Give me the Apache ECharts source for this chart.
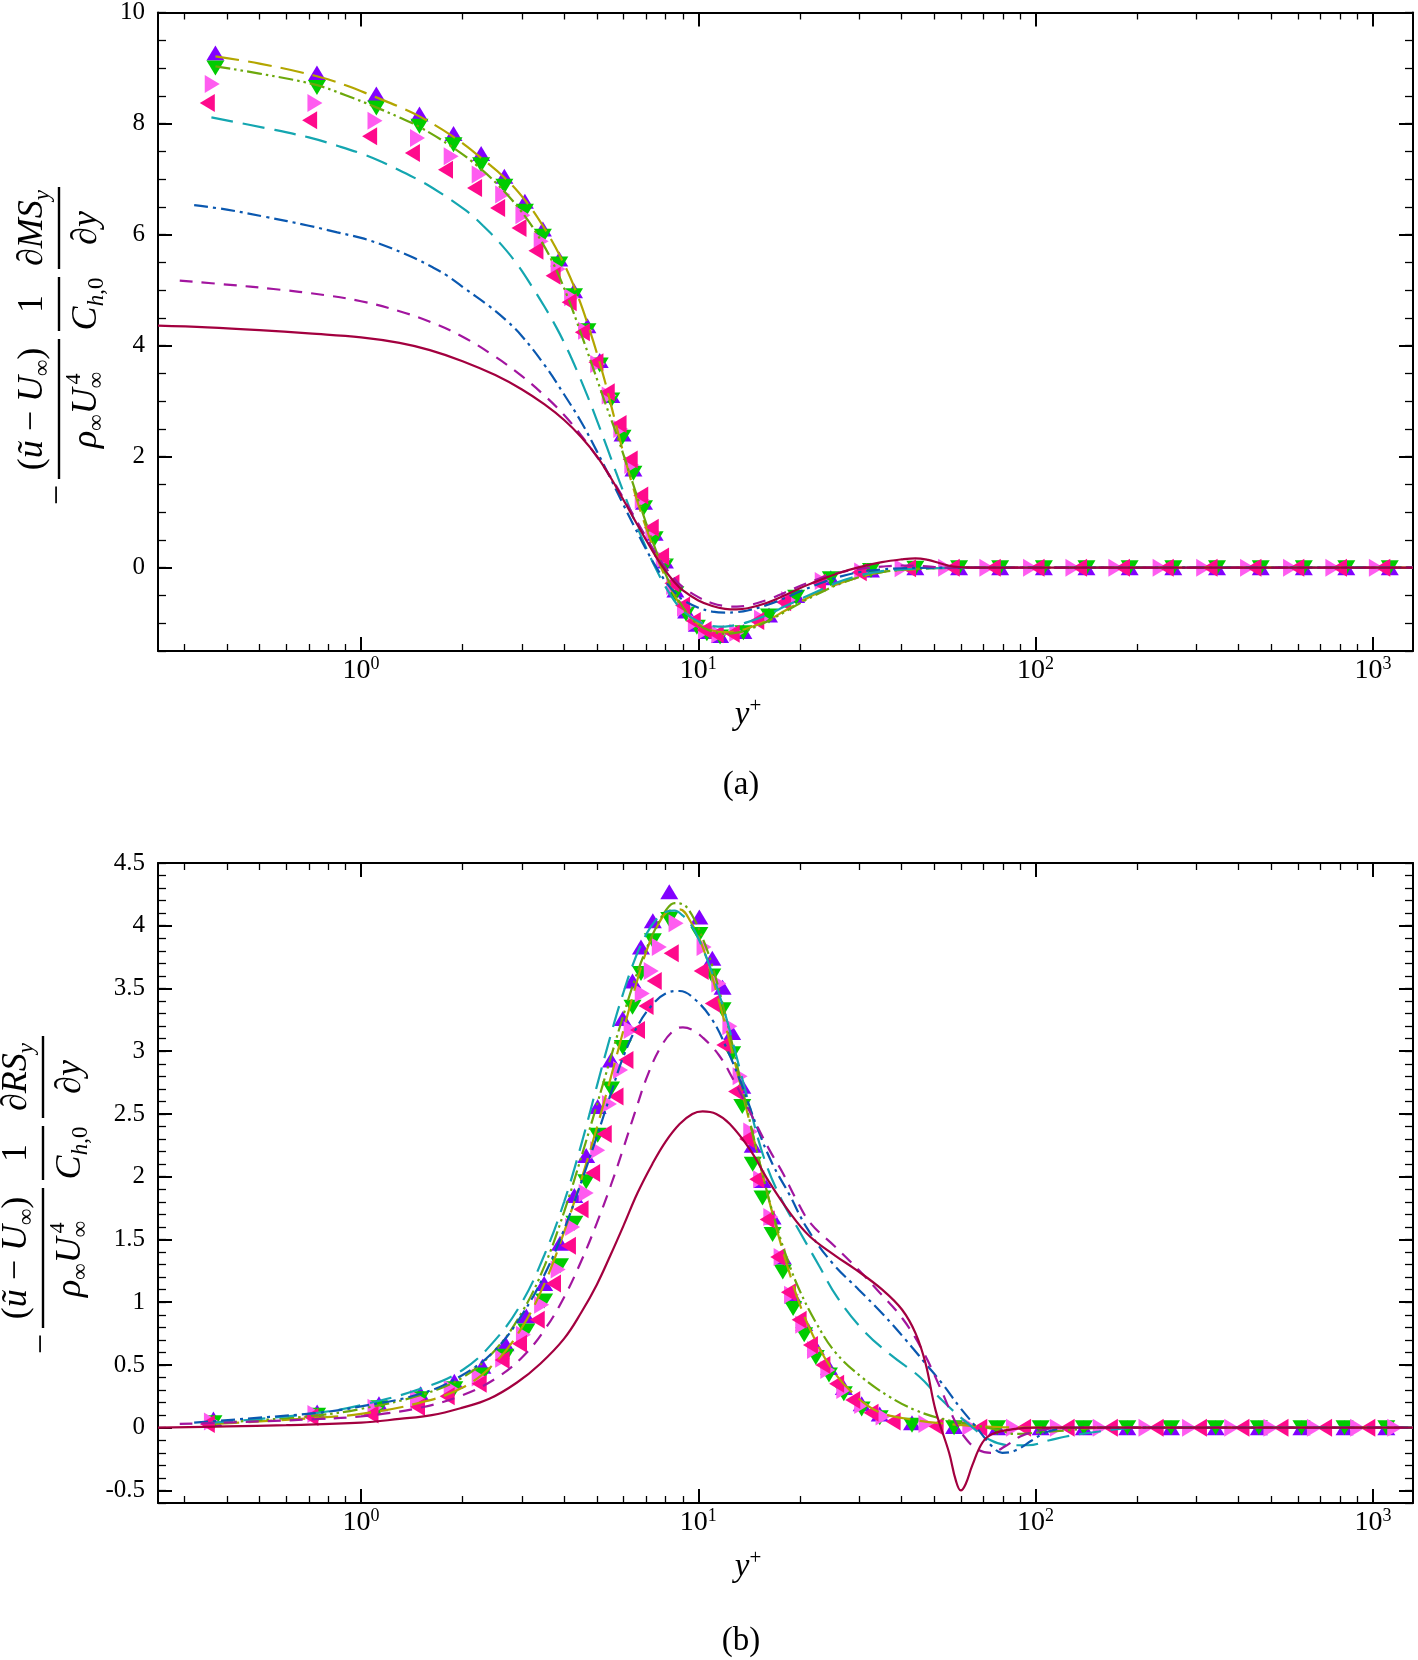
<!DOCTYPE html>
<html><head><meta charset="utf-8">
<script src="https://cdn.jsdelivr.net/npm/echarts@6/dist/echarts.min.js"></script>
<style>html,body{margin:0;padding:0;background:#fff}#c{width:1418px;height:1660px}</style>
</head><body><div id="c"></div>
<script>
// ---------- tick values / labels ----------
const xMajor = [1, 10, 100, 1000];
const xExp = ['0', '1', '2', '3'];
const xMinor = [0.3,0.4,0.5,0.6,0.7,0.8,0.9,2,3,4,5,6,7,8,9,20,30,40,50,60,70,80,90,200,300,400,500,600,700,800,900];
const yMajorA = [0, 2, 4, 6, 8, 10];
const yLabelsA = ['0', '2', '4', '6', '8', '10'];
const yMinorA = [-1.5,-1,-0.5,0,0.5,1,1.5,2,2.5,3,3.5,4,4.5,5,5.5,6,6.5,7,7.5,8,8.5,9,9.5,10];
const yMajorB = [-0.5,0,0.5,1,1.5,2,2.5,3,3.5,4,4.5];
const yLabelsB = ['-0.5','0','0.5','1','1.5','2','2.5','3','3.5','4','4.5'];
const yMinorB = [-0.6,-0.5,-0.4,-0.3,-0.2,-0.1,0,0.1,0.2,0.3,0.4,0.5,0.6,0.7,0.8,0.9,1,1.1,1.2,1.3,1.4,1.5,1.6,1.7,1.8,1.9,2,2.1,2.2,2.3,2.4,2.5,2.6,2.7,2.8,2.9,3,3.1,3.2,3.3,3.4,3.5,3.6,3.7,3.8,3.9,4,4.1,4.2,4.3,4.4,4.5];

// ---------- panel (a) lines ----------
const aSolid = [[0.25,4.36],[0.35,4.33],[0.5,4.28],[0.7,4.22],[1.0,4.15],[1.3,4.05],[1.6,3.92],[2.0,3.72],[2.5,3.47],[3.0,3.21],[3.5,2.94],[4.0,2.66],[4.5,2.35],[5.0,2.01],[5.5,1.62],[6.0,1.22],[6.5,0.84],[7.0,0.50],[7.5,0.19],[8.0,-0.06],[8.5,-0.26],[9.0,-0.41],[10,-0.59],[11,-0.69],[12,-0.74],[13,-0.75],[14,-0.73],[16,-0.63],[18,-0.50],[20,-0.37],[23,-0.22],[26,-0.10],[30,0.01],[35,0.10],[40,0.15],[44,0.17],[48,0.14],[52,0.08],[57,0.02],[65,0],[100,0],[1315,0]];
const aDash = [[0.29,5.17],[0.4,5.10],[0.55,5.02],[0.78,4.91],[1.0,4.80],[1.3,4.62],[1.6,4.43],[2.0,4.16],[2.5,3.80],[3.0,3.45],[3.5,3.10],[4.0,2.75],[4.5,2.38],[5.0,2.0],[5.5,1.63],[6.0,1.25],[6.5,0.89],[7.0,0.55],[7.5,0.25],[8.0,0.0],[8.5,-0.20],[9.0,-0.35],[10,-0.53],[11,-0.64],[12,-0.69],[13,-0.70],[14,-0.68],[16,-0.58],[18,-0.45],[20,-0.33],[23,-0.19],[26,-0.09],[30,-0.02],[35,0.02],[40,0.04],[46,0.03],[55,0],[100,0],[1315,0]];
const aDashDot = [[0.32,6.53],[0.4,6.45],[0.52,6.32],[0.7,6.16],[0.85,6.04],[1.0,5.94],[1.15,5.82],[1.4,5.61],[1.63,5.41],[1.8,5.26],[2.05,5.01],[2.4,4.71],[2.7,4.45],[3.0,4.17],[3.5,3.65],[4.0,3.12],[4.5,2.62],[5.0,2.10],[5.5,1.60],[6.0,1.13],[6.5,0.71],[7.0,0.33],[7.5,0.01],[8.0,-0.25],[8.5,-0.44],[9.0,-0.58],[10,-0.72],[11,-0.79],[12,-0.81],[13,-0.80],[14,-0.77],[16,-0.67],[18,-0.55],[20,-0.43],[23,-0.28],[26,-0.17],[30,-0.08],[35,-0.03],[40,-0.01],[50,0],[100,0],[1315,0]];
const aLongDash = [[0.36,8.11],[0.52,7.92],[0.7,7.75],[0.85,7.60],[1.0,7.46],[1.15,7.31],[1.4,7.06],[1.63,6.84],[2.05,6.43],[2.3,6.16],[2.57,5.86],[2.9,5.47],[3.2,5.08],[3.5,4.70],[3.8,4.32],[4.1,3.92],[4.4,3.50],[4.7,3.08],[5.0,2.66],[5.35,2.18],[5.7,1.72],[6.0,1.36],[6.5,0.82],[7.0,0.36],[7.5,-0.03],[8.0,-0.35],[8.5,-0.60],[9.0,-0.78],[10,-0.97],[11,-1.05],[12,-1.06],[13,-1.03],[14,-0.98],[16,-0.85],[18,-0.70],[20,-0.57],[23,-0.40],[26,-0.26],[30,-0.14],[35,-0.06],[40,-0.03],[50,-0.01],[60,0],[100,0],[1315,0]];
const aDashDotDot = [[0.37,9.03],[0.5,8.90],[0.73,8.70],[0.9,8.51],[1.1,8.30],[1.3,8.11],[1.5,7.93],[1.87,7.57],[2.24,7.21],[2.57,6.87],[2.94,6.47],[3.3,6.04],[3.7,5.50],[4.1,4.87],[4.5,4.20],[4.9,3.56],[5.3,2.96],[5.8,2.30],[6.3,1.64],[6.8,1.03],[7.3,0.49],[7.8,0.04],[8.3,-0.33],[8.8,-0.62],[9.3,-0.83],[10,-1.03],[11,-1.15],[12,-1.19],[13,-1.17],[14,-1.12],[16,-0.97],[18,-0.80],[20,-0.64],[23,-0.45],[26,-0.30],[30,-0.17],[35,-0.08],[40,-0.04],[50,-0.01],[60,0],[100,0],[1315,0]];
const aGold = [[0.37,9.21],[0.5,9.08],[0.73,8.86],[0.9,8.69],[1.1,8.48],[1.3,8.30],[1.5,8.12],[1.87,7.77],[2.24,7.41],[2.69,7.00],[3.08,6.60],[3.45,6.17],[3.87,5.64],[4.33,4.99],[4.75,4.30],[5.19,3.53],[5.57,2.82],[5.95,2.14],[6.5,1.32],[7.0,0.72],[7.5,0.22],[8.0,-0.18],[8.5,-0.50],[9.0,-0.74],[9.5,-0.90],[10,-1.01],[11,-1.13],[12,-1.16],[13,-1.14],[14,-1.09],[16,-0.95],[18,-0.78],[20,-0.62],[23,-0.43],[26,-0.29],[30,-0.17],[35,-0.08],[40,-0.04],[50,-0.01],[60,0],[100,0],[1315,0]];

// ---------- panel (a) symbols ----------
const aUp = [[0.37,9.27],[0.74,8.91],[1.11,8.53],[1.49,8.17],[1.88,7.82],[2.27,7.46],[2.66,7.05],[3.06,6.60],[3.46,6.10],[3.87,5.56],[4.28,4.99],[4.69,4.36],[5.10,3.73],[5.52,3.10],[5.96,2.41],[6.42,1.78],[6.90,1.18],[7.42,0.62],[7.96,0.12],[8.55,-0.40],[9.2,-0.78],[9.9,-1.02],[10.6,-1.15],[11.6,-1.22],[13.6,-1.15],[16.2,-0.85],[19.5,-0.50],[24.7,-0.18],[32.5,-0.04],[44,0],[59.3,0],[78.5,0],[105.8,0],[141.5,0],[190,0],[256,0],[345,0],[465,0],[624,0],[834,0],[1122,0]];
const aDown = [[0.37,9.0],[0.74,8.65],[1.11,8.28],[1.49,7.95],[1.88,7.62],[2.27,7.26],[2.66,6.87],[3.06,6.42],[3.46,5.97],[3.87,5.47],[4.28,4.90],[4.69,4.27],[5.10,3.65],[5.52,3.02],[5.96,2.35],[6.42,1.70],[6.90,1.08],[7.42,0.52],[7.96,0.03],[8.55,-0.47],[9.2,-0.84],[9.9,-1.07],[10.6,-1.19],[11.6,-1.25],[13.6,-1.17],[16.2,-0.87],[19.5,-0.53],[24.7,-0.20],[32.5,-0.05],[44,-0.01],[59.3,0],[78.5,0],[105.8,0],[141.5,0],[190,0],[256,0],[345,0],[465,0],[624,0],[834,0],[1122,0]];
const aRight = [[0.362,8.71],[0.73,8.37],[1.10,8.05],[1.47,7.74],[1.85,7.41],[2.24,7.08],[2.63,6.72],[3.02,6.35],[3.42,5.88],[3.84,5.38],[4.21,4.87],[4.63,4.27],[5.03,3.67],[5.44,3.10],[5.89,2.50],[6.35,1.85],[6.82,1.22],[7.33,0.65],[7.87,0.15],[8.45,-0.33],[9.1,-0.72],[9.8,-0.98],[10.5,-1.13],[11.5,-1.20],[13.0,-1.17],[15.4,-0.92],[18.5,-0.58],[23.3,-0.24],[30.5,-0.07],[40.2,-0.01],[54.1,0],[71.7,0],[96.6,0],[129,0],[173,0],[234,0],[315,0],[425,0],[570,0],[761,0],[1024,0]];
const aLeft = [[0.35,8.37],[0.704,8.06],[1.06,7.77],[1.42,7.47],[1.78,7.17],[2.17,6.84],[2.54,6.48],[2.94,6.12],[3.30,5.71],[3.71,5.26],[4.14,4.78],[4.53,4.24],[4.97,3.70],[5.37,3.16],[5.82,2.59],[6.28,1.95],[6.75,1.30],[7.25,0.72],[7.78,0.20],[8.35,-0.28],[8.98,-0.68],[9.66,-0.96],[10.4,-1.12],[11.3,-1.20],[12.6,-1.19],[14.9,-0.96],[17.9,-0.62],[22.7,-0.27],[30.0,-0.08],[42.0,-0.01],[56.6,0],[74.9,0],[101,0],[135,0],[181,0],[244,0],[329,0],[444,0],[595,0],[796,0],[1070,0]];

// ---------- panel (b) lines ----------
const bSolid = [[0.25,0.0],[0.4,0.01],[0.6,0.02],[1.0,0.04],[1.3,0.07],[1.62,0.10],[2.0,0.16],[2.4,0.23],[2.9,0.36],[3.4,0.51],[4.0,0.71],[4.5,0.92],[5.0,1.14],[5.5,1.38],[6.0,1.61],[6.6,1.87],[7.3,2.10],[8.0,2.28],[8.8,2.42],[9.6,2.50],[10.3,2.52],[11.3,2.50],[12.4,2.42],[14.2,2.22],[16.2,1.96],[18.6,1.72],[21.3,1.53],[25.5,1.37],[29.3,1.26],[35.1,1.10],[40.2,0.94],[44.1,0.75],[47.2,0.51],[50.5,0.14],[55.4,-0.20],[58,-0.42],[60,-0.50],[62,-0.45],[64.9,-0.30],[69.5,-0.12],[74.4,-0.05],[87,-0.01],[100,0],[1315,0]];
const bDash = [[0.29,0.03],[0.5,0.05],[0.75,0.07],[1.0,0.09],[1.5,0.16],[2.0,0.26],[2.5,0.39],[3.0,0.56],[3.5,0.78],[4.0,1.04],[4.5,1.33],[5.0,1.63],[5.5,1.93],[6.0,2.23],[6.5,2.52],[7.1,2.82],[7.8,3.05],[8.5,3.17],[9.0,3.19],[9.6,3.17],[10.3,3.11],[11.5,2.97],[12.6,2.79],[14.2,2.52],[16.2,2.22],[17.8,2.03],[19.5,1.82],[21.5,1.63],[25.5,1.44],[30.3,1.24],[34.4,1.08],[40.3,0.87],[46.1,0.62],[52.3,0.31],[57,0.08],[61.4,-0.07],[67,-0.17],[73.6,-0.20],[81,-0.15],[90,-0.07],[100,-0.03],[120,0],[1315,0]];
const bDashDot = [[0.32,0.04],[0.5,0.08],[0.75,0.12],[1.0,0.17],[1.5,0.27],[2.0,0.42],[2.5,0.62],[3.0,0.90],[3.5,1.22],[4.0,1.58],[4.5,1.96],[5.0,2.32],[5.5,2.66],[6.0,2.96],[6.6,3.20],[7.3,3.37],[8.0,3.46],[8.8,3.48],[9.8,3.41],[11.0,3.25],[12.1,3.03],[13.5,2.72],[15.0,2.38],[16.6,2.10],[18.6,1.86],[21,1.59],[25,1.31],[29.9,1.10],[35.1,0.91],[41.2,0.70],[47.2,0.51],[52.9,0.35],[59.3,0.17],[66.4,0.01],[74.4,-0.15],[79.6,-0.20],[87.3,-0.18],[97.7,-0.10],[109,-0.03],[130,0],[1315,0]];
const bLongDash = [[0.36,0.04],[0.5,0.07],[0.75,0.12],[1.0,0.18],[1.5,0.31],[2.0,0.46],[2.5,0.70],[3.0,1.0],[3.5,1.38],[4.0,1.80],[4.5,2.26],[5.0,2.72],[5.5,3.13],[6.0,3.47],[6.5,3.74],[7.0,3.93],[7.5,4.05],[8.0,4.11],[8.5,4.12],[9.0,4.08],[9.5,4.01],[10,3.90],[11,3.62],[12,3.30],[13,2.95],[14,2.62],[15.7,2.14],[17.7,1.81],[19.9,1.57],[22.8,1.29],[25.8,1.04],[31,0.77],[37.6,0.57],[45.1,0.41],[52.3,0.23],[61.9,0.05],[73.6,-0.10],[85,-0.14],[95,-0.14],[110,-0.10],[123,-0.07],[154,-0.03],[200,0],[1315,0]];
const bDashDotDot = [[0.37,0.04],[0.5,0.06],[0.75,0.10],[1.0,0.15],[1.5,0.26],[2.0,0.40],[2.5,0.62],[3.0,0.92],[3.5,1.29],[4.0,1.72],[4.5,2.16],[5.0,2.57],[5.5,2.95],[6.0,3.29],[6.5,3.58],[7.0,3.81],[7.5,3.99],[8.0,4.12],[8.5,4.18],[9.0,4.17],[9.6,4.08],[10.3,3.90],[11,3.68],[12,3.30],[13,2.90],[14,2.52],[15.5,2.02],[17,1.62],[18.6,1.30],[20,1.09],[22.3,0.84],[25.5,0.60],[30.6,0.40],[36.7,0.25],[44,0.14],[52.9,0.07],[63.4,0.03],[77.8,-0.02],[87,-0.05],[100,-0.04],[125,-0.02],[160,0],[1315,0]];
const bGold = [[0.37,0.03],[0.5,0.05],[0.75,0.08],[1.0,0.11],[1.5,0.20],[2.0,0.32],[2.5,0.52],[3.0,0.80],[3.5,1.15],[4.0,1.56],[4.5,1.98],[5.0,2.39],[5.5,2.79],[6.0,3.17],[6.5,3.51],[7.0,3.79],[7.5,3.98],[8.2,4.12],[8.8,4.13],[9.5,4.03],[10.3,3.83],[11,3.59],[12,3.22],[13,2.85],[14,2.50],[15.5,2.02],[17,1.60],[18.6,1.24],[20,0.98],[22,0.72],[25,0.46],[28.6,0.28],[34,0.13],[44,0.06],[55,0.03],[70,0.01],[100,0],[1315,0]];

// ---------- panel (b) symbols ----------
const bUp = [[0.365,0.07],[0.741,0.125],[1.13,0.19],[1.50,0.27],[1.89,0.37],[2.29,0.49],[2.68,0.67],[3.09,0.89],[3.49,1.15],[3.89,1.47],[4.29,1.85],[4.65,2.17],[5.03,2.56],[5.51,2.93],[5.97,3.26],[6.38,3.56],[6.76,3.83],[7.33,4.04],[8.2,4.27],[10.07,4.07],[11.0,3.74],[11.8,3.51],[12.6,3.15],[13.5,2.72],[14.5,2.25],[15.5,1.97],[16.6,1.68],[17.8,1.36],[19.1,1.05],[20.6,0.83],[22.3,0.64],[24.4,0.48],[27.0,0.32],[30.5,0.19],[34.5,0.11],[43,0.04],[57.3,0.01],[76.9,0],[103.5,0],[139,0],[187,0],[252,0],[342,0],[459,0],[614,0],[824,0],[1096,0]];
const bDown = [[0.365,0.04],[0.741,0.10],[1.13,0.16],[1.50,0.23],[1.89,0.31],[2.29,0.42],[2.68,0.57],[3.09,0.77],[3.49,1.01],[3.89,1.29],[4.29,1.63],[4.65,1.96],[5.03,2.33],[5.51,2.70],[5.97,3.03],[6.38,3.35],[6.76,3.62],[7.33,3.88],[8.2,4.05],[10.07,3.93],[11.0,3.60],[11.8,3.33],[12.6,2.98],[13.5,2.56],[14.5,2.10],[15.5,1.83],[16.6,1.54],[17.8,1.24],[19.1,0.95],[20.6,0.74],[22.3,0.56],[24.4,0.42],[27.0,0.27],[30.5,0.15],[34.5,0.08],[43,0.02],[57.3,0],[76.9,0],[103.5,0],[139,0],[187,0],[252,0],[342,0],[459,0],[614,0],[824,0],[1096,0]];
const bRight = [[0.36,0.05],[0.73,0.11],[1.10,0.16],[1.47,0.23],[1.85,0.31],[2.24,0.40],[2.63,0.55],[3.03,0.74],[3.43,0.98],[3.84,1.26],[4.24,1.60],[4.65,1.87],[5.03,2.21],[5.45,2.58],[5.88,2.85],[6.32,3.17],[6.82,3.46],[7.25,3.64],[7.66,3.83],[8.59,4.02],[10.4,3.83],[11.5,3.54],[12.4,3.20],[13.3,2.80],[14.3,2.36],[15.3,1.98],[16.4,1.68],[17.6,1.36],[18.9,1.06],[20.4,0.82],[22.1,0.62],[24.2,0.46],[27.0,0.30],[30.5,0.18],[35.3,0.09],[47.3,0.03],[63.8,0.01],[86,0],[116,0],[155.5,0],[212.5,0],[286,0],[381.5,0],[498.5,0],[671,0],[901,0],[1161,0]];
const bLeft = [[0.35,0.03],[0.71,0.085],[1.07,0.106],[1.47,0.165],[1.80,0.25],[2.24,0.35],[2.62,0.54],[2.95,0.67],[3.33,0.86],[3.72,1.15],[4.12,1.45],[4.49,1.74],[4.86,2.03],[5.26,2.34],[5.70,2.64],[6.10,2.93],[6.60,3.17],[7.0,3.36],[7.4,3.56],[8.31,3.78],[10.2,3.64],[11.0,3.38],[11.9,3.05],[12.9,2.68],[13.9,2.30],[14.9,1.98],[16.0,1.66],[17.2,1.36],[18.5,1.08],[19.9,0.86],[21.5,0.66],[23.4,0.50],[25.7,0.35],[28.7,0.22],[32.5,0.12],[37.8,0.05],[50.7,0.01],[68.3,0],[92.1,0],[124,0],[166.6,0],[227.7,0],[306,0],[409,0],[534,0],[719,0],[966,0]];

// ---------- styling ----------
const F = "'Liberation Serif', 'Times New Roman', serif";
const C = {
  solid: '#A3003F', dash: '#A2159F', dashDot: '#0A58B0', longDash: '#14A6B0',
  dashDotDot: '#6CA80C', gold: '#B3A600',
  up: '#8200FF', down: '#00CC00', right: '#FF5CF0', left: '#FF0A8C'
};

function xAxesFor(g) {
  const base = {type: 'log', logBase: 10, min: 0.25, max: 1315, gridIndex: g,
    splitLine: {show: false}, minorTick: {show: false}, minorSplitLine: {show: false}};
  const lineOn = {show: true, onZero: false, lineStyle: {color: '#000', width: 2}};
  const majorTick = {show: true, inside: true, length: 14, lineStyle: {color: '#000', width: 2}, customValues: xMajor};
  const minorTick = {show: true, inside: true, length: 7, lineStyle: {color: '#000', width: 1.3}, customValues: xMinor};
  return [
    Object.assign({}, base, {position: 'bottom', axisLine: lineOn, axisTick: majorTick,
      axisLabel: {show: true, customValues: xMajor, margin: 4,
        formatter: function (v) {
          const i = xMajor.findIndex(t => Math.abs(t - v) / t < 1e-6);
          return i < 0 ? '' : '{b|10}{s|' + xExp[i] + '}';
        },
        rich: {b: {fontFamily: F, fontSize: 28, color: '#000', lineHeight: 32},
               s: {fontFamily: F, fontSize: 18, color: '#000', lineHeight: 18, verticalAlign: 'top'}}}}),
    Object.assign({}, base, {position: 'bottom', axisLine: {show: false, onZero: false}, axisTick: minorTick, axisLabel: {show: false}}),
    Object.assign({}, base, {position: 'top', axisLine: lineOn, axisTick: majorTick, axisLabel: {show: false}}),
    Object.assign({}, base, {position: 'top', axisLine: {show: false, onZero: false}, axisTick: minorTick, axisLabel: {show: false}})
  ];
}
function yAxesFor(g, min, max, major, labels, minor) {
  const base = {type: 'value', min: min, max: max, gridIndex: g, splitLine: {show: false}};
  const lineOn = {show: true, onZero: false, lineStyle: {color: '#000', width: 2}};
  const majorTick = {show: true, inside: true, length: 14, lineStyle: {color: '#000', width: 2}, customValues: major};
  const minorTick = {show: true, inside: true, length: 8, lineStyle: {color: '#000', width: 1.3}, customValues: minor};
  return [
    Object.assign({}, base, {position: 'left', axisLine: lineOn, axisTick: majorTick,
      axisLabel: {show: true, customValues: major, margin: 13, fontFamily: F, fontSize: 25, color: '#000',
        formatter: function (v) {
          const i = major.findIndex(t => Math.abs(t - v) < 1e-9);
          return i < 0 ? '' : labels[i];
        }}}),
    Object.assign({}, base, {position: 'left', axisLine: {show: false, onZero: false}, axisTick: minorTick, axisLabel: {show: false}}),
    Object.assign({}, base, {position: 'right', axisLine: lineOn, axisTick: majorTick, axisLabel: {show: false}}),
    Object.assign({}, base, {position: 'right', axisLine: {show: false, onZero: false}, axisTick: minorTick, axisLabel: {show: false}})
  ];
}

function lineS(data, color, type, ax) {
  return {type: 'line', data: data, xAxisIndex: ax, yAxisIndex: ax, symbol: 'none', showSymbol: false,
    smooth: 0.4, silent: true, animation: false,
    lineStyle: {color: color, width: 2.2, type: type}};
}
function markS(data, color, rot, ax) {
  return {type: 'scatter', data: data, xAxisIndex: ax, yAxisIndex: ax, symbol: 'triangle',
    symbolSize: [18, 15], symbolRotate: rot, silent: true, animation: false,
    itemStyle: {color: color, opacity: 1}};
}

function panelSeries(ax, L, M) {
  return [
    lineS(L[5], C.gold, [24, 9], ax),
    lineS(L[4], C.dashDotDot, [15, 4, 2.5, 4, 2.5, 4], ax),
    lineS(L[3], C.longDash, [22, 10], ax),
    lineS(L[2], C.dashDot, [14, 5, 3, 5], ax),
    lineS(L[1], C.dash, [13, 9], ax),
    lineS(L[0], C.solid, 'solid', ax),
    markS(M[0], C.up, 0, ax),
    markS(M[1], C.down, 180, ax),
    markS(M[2], C.right, -90, ax),
    markS(M[3], C.left, 90, ax)
  ];
}

// ---------- y-axis title (fraction expression, rotated) ----------
function yTitle(px, py, sym) {
  const rich = {
    n: {fontFamily: F, fontSize: 36, lineHeight: 42, fill: '#000'},
    i: {fontFamily: F, fontSize: 36, fontStyle: 'italic', lineHeight: 42, fill: '#000'},
    sb: {fontFamily: F, fontSize: 23, lineHeight: 23, verticalAlign: 'bottom', fill: '#000'},
    sbi: {fontFamily: F, fontSize: 23, fontStyle: 'italic', lineHeight: 23, verticalAlign: 'bottom', fill: '#000'}
  };
  const t = (text, x, y, fs) => ({type: 'text', silent: true, style: {text: text, x: x, y: y,
    textAlign: 'center', align: 'center', textVerticalAlign: 'middle', verticalAlign: 'middle',
    fill: '#000', font: (fs || 36) + 'px ' + F, rich: rich}});
  const bar = (x1, x2) => ({type: 'line', silent: true, shape: {x1: x1, y1: 0, x2: x2, y2: 0},
    style: {stroke: '#000', lineWidth: 2.4}});
  return {type: 'group', x: px, y: py, rotation: Math.PI / 2, children: [
    t('{n|−}', 8, 0),
    bar(24, 164),
    t('{n|(}{i|ũ}{n| − }{i|U}{sb|∞}{n|)}', 94, -26),
    t('{i|ρ}{sb|∞}{i|U}{sb|∞}', 93, 28),
    t('4', 124, 15, 22),
    bar(172, 226),
    t('{n|1}', 199, -26),
    t('{i|C}{sbi|h}{sb|,0}', 199, 28),
    bar(234, 316),
    t('{n|∂}{i|' + sym + '}{sbi|y}', 275, -26),
    t('{n|∂}{i|y}', 275, 28)
  ]};
}
function plainText(text, x, y, rich) {
  return {type: 'text', silent: true, style: {text: text, x: x, y: y, textAlign: 'center', align: 'center',
    textVerticalAlign: 'middle', verticalAlign: 'middle', fill: '#000', font: '33px ' + F, rich: rich}};
}
const yPlusRich = {
  i: {fontFamily: F, fontSize: 33, fontStyle: 'italic', lineHeight: 38, fill: '#000'},
  s: {fontFamily: F, fontSize: 21, lineHeight: 21, verticalAlign: 'top', fill: '#000'}
};

const chart = echarts.init(document.getElementById('c'), null, {renderer: 'canvas'});
chart.setOption({
  animation: false,
  backgroundColor: '#fff',
  grid: [
    {left: 158, right: 5, top: 11, height: 640},
    {left: 158, right: 5, top: 863, height: 640}
  ],
  xAxis: xAxesFor(0).concat(xAxesFor(1)),
  yAxis: yAxesFor(0, -1.5, 10, yMajorA, yLabelsA, yMinorA).concat(yAxesFor(1, -0.6, 4.5, yMajorB, yLabelsB, yMinorB)),
  series: panelSeries(0, [aSolid, aDash, aDashDot, aLongDash, aDashDotDot, aGold], [aUp, aDown, aRight, aLeft])
    .concat(panelSeries(4, [bSolid, bDash, bDashDot, bLongDash, bDashDotDot, bGold], [bUp, bDown, bRight, bLeft])),
  graphic: [
    yTitle(59, 503, 'MS'),
    yTitle(43, 1352, 'RS'),
    plainText('{i|y}{s|+}', 748, 715, yPlusRich),
    plainText('(a)', 741, 785),
    plainText('{i|y}{s|+}', 748, 1567, yPlusRich),
    plainText('(b)', 741, 1641)
  ]
});
</script></body></html>
